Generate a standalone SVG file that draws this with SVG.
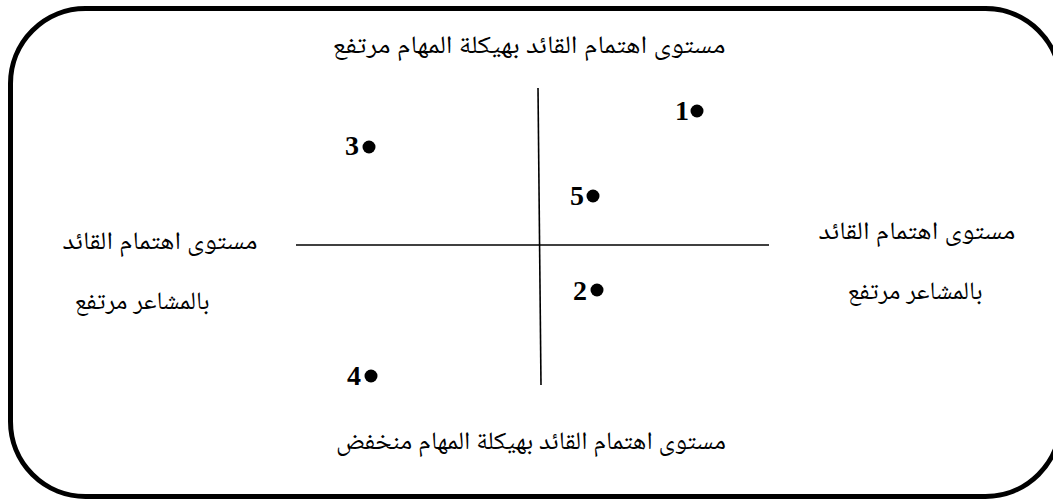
<svg xmlns="http://www.w3.org/2000/svg" width="1053" height="500" viewBox="0 0 1053 500">
<style>
.ar{font-family:"Noto Naskh Arabic","Noto Sans Arabic","DejaVu Sans",sans-serif;font-size:25px;fill:#000;text-anchor:middle;direction:rtl}
.num{font-family:"Liberation Serif","Times New Roman",serif;font-weight:bold;font-size:28px;fill:#000}
.axis{stroke:#000;stroke-width:1.6;fill:none}
</style>
<rect x="10.5" y="8.5" width="1050" height="488" rx="75" ry="75" fill="#fff" stroke="#000" stroke-width="5"/>
<g id="connectors">
<line class="axis" x1="538" y1="88" x2="541" y2="385"/>
<line class="axis" x1="296" y1="245" x2="769" y2="245"/>
</g>
<g id="label-top"><text class="ar" x="529" y="53" textLength="393" lengthAdjust="spacingAndGlyphs">مستوى اهتمام القائد بهيكلة المهام مرتفع</text></g>
<g id="label-bottom"><text class="ar" x="531" y="449" textLength="390" lengthAdjust="spacingAndGlyphs">مستوى اهتمام القائد بهيكلة المهام منخفض</text></g>
<g id="label-left">
<text class="ar" x="160" y="249" textLength="195" lengthAdjust="spacingAndGlyphs">مستوى اهتمام القائد</text>
<text class="ar" x="142" y="309" textLength="135" lengthAdjust="spacingAndGlyphs">بالمشاعر مرتفع</text>
</g>
<g id="label-right">
<text class="ar" x="917" y="239" textLength="197" lengthAdjust="spacingAndGlyphs">مستوى اهتمام القائد</text>
<text class="ar" x="915" y="299" textLength="135" lengthAdjust="spacingAndGlyphs">بالمشاعر مرتفع</text>
</g>
<g id="point-1"><text class="num" x="675" y="120">1</text><circle cx="697" cy="111" r="6.5"/></g>
<g id="point-5"><text class="num" x="570" y="205">5</text><circle cx="593" cy="196" r="6.5"/></g>
<g id="point-2"><text class="num" x="573" y="300">2</text><circle cx="597" cy="290" r="6.5"/></g>
<g id="point-3"><text class="num" x="345" y="155">3</text><circle cx="369" cy="147" r="6.5"/></g>
<g id="point-4"><text class="num" x="347" y="385">4</text><circle cx="371" cy="376" r="6.5"/></g>
</svg>
